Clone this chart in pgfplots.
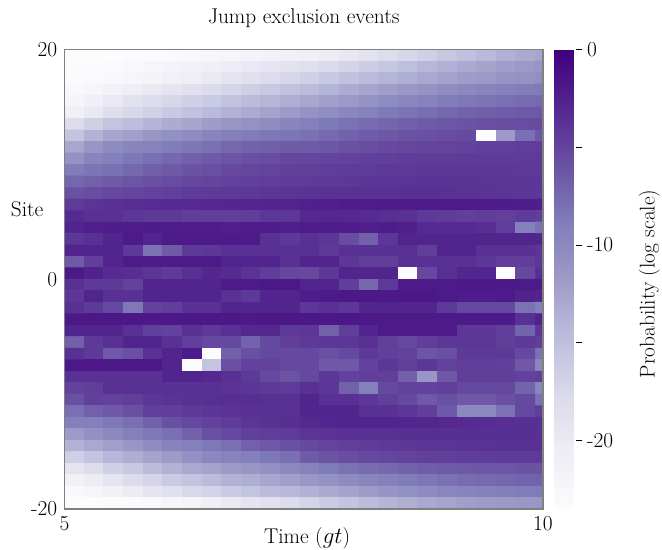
\documentclass[border=0pt]{standalone}
\usepackage{pgfplots}
\pgfplotsset{compat=1.18}
\pgfplotsset{colormap={purples}{rgb255=(252,251,253) rgb255=(239,237,245) rgb255=(218,218,235) rgb255=(188,189,220) rgb255=(158,154,200) rgb255=(128,125,186) rgb255=(106,81,163) rgb255=(84,39,143) rgb255=(63,0,125)}}
\definecolor{framegray}{RGB}{128,128,128}
\begin{document}
\begin{tikzpicture}[font=\fontsize{16}{19}\selectfont]
\useasboundingbox (0,0) rectangle (496.5pt,412.5pt);
\begin{axis}[
  at={(48.375pt,30.75pt)}, anchor=south west,
  width=358.875pt, height=344.625pt, scale only axis,
  xmin=5, xmax=10, ymin=-20, ymax=20,
  xtick={5,10}, xticklabels={5,10},
  ytick={-20,0,20}, yticklabels={\hbox{-}20,0,20},
  major tick length=0pt, minor tick length=0pt,
  axis line style={draw=framegray, line width=1pt},
  axis on top,
  title={Jump exclusion events},
  title style={at={(rel axis cs:0.5,1.05)}, anchor=center},
  xlabel={Time ($gt$)},
  xlabel style={at={(rel axis cs:0.507,-0.063)}, anchor=center},
  ylabel={Site},
  ylabel style={at={(rel axis cs:-0.078,0.653)}, anchor=center, rotate=-90},
  yticklabel style={xshift=-2pt},
  xticklabel style={yshift=-2pt},
  colormap name=purples,
  point meta min=-23.5, point meta max=0,
  colorbar,
  colorbar style={
    at={(parent axis.north east)}, anchor=north west, xshift=0pt,
    width=16.5pt,
    ytick={-20,-10,0}, yticklabels={\hbox{-}20,\hbox{-}10,0},
    minor ytick={-15,-5},
    ytick pos=right, yticklabel pos=right,
    tick align=outside,
    major tick length=4.5pt, minor tick length=4.5pt,
    tick style={black, line width=0.7pt},
    axis line style={draw=none},
    ylabel={Probability (log scale)},
    ylabel style={at={(rel axis cs:4.32,0.49)}, anchor=center},
  },
]
\addplot[matrix plot*, mesh/cols=25, point meta=explicit] table[x=x, y=y, meta=c, row sep=\\] {
x y c\\
5.10 19.5 -23.4\\ 5.31 19.5 -23.4\\ 5.51 19.5 -23.4\\ 5.72 19.5 -23.3\\ 5.92 19.5 -23.2\\ 6.13 19.5 -23.0\\ 6.33 19.5 -22.8\\ 6.54 19.5 -22.5\\ 6.74 19.5 -22.2\\ 6.95 19.5 -21.9\\ 7.15 19.5 -21.6\\ 7.36 19.5 -21.2\\ 7.56 19.5 -20.8\\ 7.77 19.5 -20.3\\ 7.97 19.5 -19.6\\ 8.18 19.5 -18.9\\ 8.38 19.5 -18.1\\ 8.59 19.5 -17.3\\ 8.79 19.5 -16.5\\ 9.00 19.5 -15.8\\ 9.20 19.5 -15.1\\ 9.41 19.5 -14.4\\ 9.61 19.5 -13.7\\ 9.82 19.5 -13.1\\ 10.02 19.5 -12.6\\
5.10 18.5 -23.3\\ 5.31 18.5 -23.2\\ 5.51 18.5 -23.0\\ 5.72 18.5 -22.7\\ 5.92 18.5 -22.3\\ 6.13 18.5 -21.9\\ 6.33 18.5 -21.4\\ 6.54 18.5 -20.9\\ 6.74 18.5 -20.4\\ 6.95 18.5 -19.9\\ 7.15 18.5 -19.4\\ 7.36 18.5 -18.9\\ 7.56 18.5 -18.4\\ 7.77 18.5 -17.7\\ 7.97 18.5 -17.0\\ 8.18 18.5 -16.3\\ 8.38 18.5 -15.6\\ 8.59 18.5 -14.9\\ 8.79 18.5 -14.2\\ 9.00 18.5 -13.6\\ 9.20 18.5 -13.0\\ 9.41 18.5 -12.5\\ 9.61 18.5 -12.0\\ 9.82 18.5 -11.6\\ 10.02 18.5 -11.2\\
5.10 17.5 -23.2\\ 5.31 17.5 -23.0\\ 5.51 17.5 -22.7\\ 5.72 17.5 -22.3\\ 5.92 17.5 -21.8\\ 6.13 17.5 -21.2\\ 6.33 17.5 -20.6\\ 6.54 17.5 -19.9\\ 6.74 17.5 -19.2\\ 6.95 17.5 -18.5\\ 7.15 17.5 -17.9\\ 7.36 17.5 -17.3\\ 7.56 17.5 -16.6\\ 7.77 17.5 -15.9\\ 7.97 17.5 -15.2\\ 8.18 17.5 -14.6\\ 8.38 17.5 -14.0\\ 8.59 17.5 -13.4\\ 8.79 17.5 -12.9\\ 9.00 17.5 -12.4\\ 9.20 17.5 -11.9\\ 9.41 17.5 -11.5\\ 9.61 17.5 -11.1\\ 9.82 17.5 -10.8\\ 10.02 17.5 -10.5\\
5.10 16.5 -22.8\\ 5.31 16.5 -22.3\\ 5.51 16.5 -21.4\\ 5.72 16.5 -20.7\\ 5.92 16.5 -19.8\\ 6.13 16.5 -19.2\\ 6.33 16.5 -18.6\\ 6.54 16.5 -17.8\\ 6.74 16.5 -17.1\\ 6.95 16.5 -16.4\\ 7.15 16.5 -15.8\\ 7.36 16.5 -15.2\\ 7.56 16.5 -14.6\\ 7.77 16.5 -13.9\\ 7.97 16.5 -13.2\\ 8.18 16.5 -12.6\\ 8.38 16.5 -12.0\\ 8.59 16.5 -11.4\\ 8.79 16.5 -10.9\\ 9.00 16.5 -10.4\\ 9.20 16.5 -10.0\\ 9.41 16.5 -9.6\\ 9.61 16.5 -9.2\\ 9.82 16.5 -8.9\\ 10.02 16.5 -8.7\\
5.10 15.5 -22.0\\ 5.31 15.5 -20.8\\ 5.51 15.5 -19.9\\ 5.72 15.5 -18.8\\ 5.92 15.5 -18.0\\ 6.13 15.5 -17.3\\ 6.33 15.5 -16.6\\ 6.54 15.5 -16.0\\ 6.74 15.5 -15.3\\ 6.95 15.5 -14.6\\ 7.15 15.5 -14.0\\ 7.36 15.5 -13.4\\ 7.56 15.5 -12.8\\ 7.77 15.5 -12.1\\ 7.97 15.5 -11.5\\ 8.18 15.5 -10.9\\ 8.38 15.5 -10.3\\ 8.59 15.5 -9.8\\ 8.79 15.5 -9.3\\ 9.00 15.5 -8.9\\ 9.20 15.5 -8.5\\ 9.41 15.5 -8.2\\ 9.61 15.5 -7.9\\ 9.82 15.5 -7.7\\ 10.02 15.5 -7.5\\
5.10 14.5 -21.2\\ 5.31 14.5 -19.8\\ 5.51 14.5 -18.3\\ 5.72 14.5 -17.4\\ 5.92 14.5 -16.7\\ 6.13 14.5 -15.9\\ 6.33 14.5 -15.2\\ 6.54 14.5 -14.5\\ 6.74 14.5 -13.8\\ 6.95 14.5 -13.1\\ 7.15 14.5 -12.4\\ 7.36 14.5 -11.7\\ 7.56 14.5 -11.0\\ 7.77 14.5 -10.4\\ 7.97 14.5 -9.8\\ 8.18 14.5 -9.2\\ 8.38 14.5 -8.7\\ 8.59 14.5 -8.2\\ 8.79 14.5 -7.8\\ 9.00 14.5 -7.4\\ 9.20 14.5 -7.1\\ 9.41 14.5 -6.8\\ 9.61 14.5 -6.6\\ 9.82 14.5 -6.4\\ 10.02 14.5 -6.3\\
5.10 13.5 -17.9\\ 5.31 13.5 -16.5\\ 5.51 13.5 -15.4\\ 5.72 13.5 -14.8\\ 5.92 13.5 -13.9\\ 6.13 13.5 -13.2\\ 6.33 13.5 -12.6\\ 6.54 13.5 -11.9\\ 6.74 13.5 -11.3\\ 6.95 13.5 -10.8\\ 7.15 13.5 -10.3\\ 7.36 13.5 -9.7\\ 7.56 13.5 -9.1\\ 7.77 13.5 -8.6\\ 7.97 13.5 -8.1\\ 8.18 13.5 -7.6\\ 8.38 13.5 -7.2\\ 8.59 13.5 -6.8\\ 8.79 13.5 -6.5\\ 9.00 13.5 -6.2\\ 9.20 13.5 -6.0\\ 9.41 13.5 -5.8\\ 9.61 13.5 -5.6\\ 9.82 13.5 -5.5\\ 10.02 13.5 -5.4\\
5.10 12.5 -15.4\\ 5.31 12.5 -13.8\\ 5.51 12.5 -12.6\\ 5.72 12.5 -12.2\\ 5.92 12.5 -11.2\\ 6.13 12.5 -10.7\\ 6.33 12.5 -10.3\\ 6.54 12.5 -9.6\\ 6.74 12.5 -9.1\\ 6.95 12.5 -8.8\\ 7.15 12.5 -8.5\\ 7.36 12.5 -8.3\\ 7.56 12.5 -8.0\\ 7.77 12.5 -7.5\\ 7.97 12.5 -7.0\\ 8.18 12.5 -6.6\\ 8.38 12.5 -6.3\\ 8.59 12.5 -6.0\\ 8.79 12.5 -5.8\\ 9.00 12.5 -5.6\\ 9.20 12.5 -5.4\\ 9.41 12.5 -23.5\\ 9.61 12.5 -11.7\\ 9.82 12.5 -7.9\\ 10.02 12.5 -6.3\\
5.10 11.5 -12.7\\ 5.31 11.5 -11.3\\ 5.51 11.5 -10.2\\ 5.72 11.5 -9.7\\ 5.92 11.5 -9.3\\ 6.13 11.5 -8.8\\ 6.33 11.5 -8.4\\ 6.54 11.5 -8.0\\ 6.74 11.5 -7.3\\ 6.95 11.5 -7.0\\ 7.15 11.5 -6.8\\ 7.36 11.5 -6.6\\ 7.56 11.5 -6.5\\ 7.77 11.5 -6.2\\ 7.97 11.5 -5.9\\ 8.18 11.5 -5.6\\ 8.38 11.5 -5.4\\ 8.59 11.5 -5.2\\ 8.79 11.5 -5.0\\ 9.00 11.5 -4.9\\ 9.20 11.5 -4.8\\ 9.41 11.5 -4.7\\ 9.61 11.5 -4.6\\ 9.82 11.5 -4.5\\ 10.02 11.5 -4.5\\
5.10 10.5 -10.8\\ 5.31 10.5 -9.6\\ 5.51 10.5 -9.1\\ 5.72 10.5 -8.5\\ 5.92 10.5 -7.9\\ 6.13 10.5 -7.4\\ 6.33 10.5 -6.9\\ 6.54 10.5 -6.5\\ 6.74 10.5 -6.1\\ 6.95 10.5 -5.8\\ 7.15 10.5 -5.5\\ 7.36 10.5 -5.2\\ 7.56 10.5 -5.1\\ 7.77 10.5 -4.9\\ 7.97 10.5 -4.8\\ 8.18 10.5 -4.7\\ 8.38 10.5 -4.6\\ 8.59 10.5 -4.5\\ 8.79 10.5 -4.4\\ 9.00 10.5 -4.4\\ 9.20 10.5 -4.3\\ 9.41 10.5 -4.3\\ 9.61 10.5 -4.3\\ 9.82 10.5 -4.3\\ 10.02 10.5 -4.3\\
5.10 9.5 -8.8\\ 5.31 9.5 -8.3\\ 5.51 9.5 -8.0\\ 5.72 9.5 -7.4\\ 5.92 9.5 -6.8\\ 6.13 9.5 -6.4\\ 6.33 9.5 -6.0\\ 6.54 9.5 -5.7\\ 6.74 9.5 -5.4\\ 6.95 9.5 -5.1\\ 7.15 9.5 -4.9\\ 7.36 9.5 -4.7\\ 7.56 9.5 -4.6\\ 7.77 9.5 -4.5\\ 7.97 9.5 -4.4\\ 8.18 9.5 -4.3\\ 8.38 9.5 -4.2\\ 8.59 9.5 -4.2\\ 8.79 9.5 -4.1\\ 9.00 9.5 -4.1\\ 9.20 9.5 -4.1\\ 9.41 9.5 -4.1\\ 9.61 9.5 -4.1\\ 9.82 9.5 -4.2\\ 10.02 9.5 -4.2\\
5.10 8.5 -7.3\\ 5.31 8.5 -6.9\\ 5.51 8.5 -6.5\\ 5.72 8.5 -6.1\\ 5.92 8.5 -5.8\\ 6.13 8.5 -5.5\\ 6.33 8.5 -5.2\\ 6.54 8.5 -5.0\\ 6.74 8.5 -4.8\\ 6.95 8.5 -4.6\\ 7.15 8.5 -4.5\\ 7.36 8.5 -4.4\\ 7.56 8.5 -4.3\\ 7.77 8.5 -4.2\\ 7.97 8.5 -4.1\\ 8.18 8.5 -4.0\\ 8.38 8.5 -3.9\\ 8.59 8.5 -3.9\\ 8.79 8.5 -3.8\\ 9.00 8.5 -3.8\\ 9.20 8.5 -3.8\\ 9.41 8.5 -3.9\\ 9.61 8.5 -3.9\\ 9.82 8.5 -4.0\\ 10.02 8.5 -4.0\\
5.10 7.5 -5.9\\ 5.31 7.5 -5.6\\ 5.51 7.5 -5.3\\ 5.72 7.5 -5.0\\ 5.92 7.5 -4.8\\ 6.13 7.5 -4.6\\ 6.33 7.5 -4.4\\ 6.54 7.5 -4.3\\ 6.74 7.5 -4.2\\ 6.95 7.5 -4.1\\ 7.15 7.5 -4.0\\ 7.36 7.5 -3.9\\ 7.56 7.5 -3.8\\ 7.77 7.5 -3.7\\ 7.97 7.5 -3.7\\ 8.18 7.5 -3.6\\ 8.38 7.5 -3.6\\ 8.59 7.5 -3.5\\ 8.79 7.5 -3.5\\ 9.00 7.5 -3.6\\ 9.20 7.5 -3.7\\ 9.41 7.5 -3.8\\ 9.61 7.5 -3.9\\ 9.82 7.5 -4.0\\ 10.02 7.5 -4.1\\
5.10 6.5 -4.3\\ 5.31 6.5 -3.9\\ 5.51 6.5 -3.6\\ 5.72 6.5 -3.4\\ 5.92 6.5 -3.3\\ 6.13 6.5 -3.2\\ 6.33 6.5 -3.1\\ 6.54 6.5 -3.0\\ 6.74 6.5 -2.9\\ 6.95 6.5 -2.8\\ 7.15 6.5 -2.7\\ 7.36 6.5 -2.6\\ 7.56 6.5 -2.4\\ 7.77 6.5 -2.3\\ 7.97 6.5 -2.2\\ 8.18 6.5 -2.2\\ 8.38 6.5 -2.1\\ 8.59 6.5 -2.1\\ 8.79 6.5 -2.1\\ 9.00 6.5 -2.0\\ 9.20 6.5 -2.0\\ 9.41 6.5 -2.0\\ 9.61 6.5 -2.1\\ 9.82 6.5 -2.2\\ 10.02 6.5 -2.3\\
5.10 5.5 -3.2\\ 5.31 5.5 -3.55\\ 5.51 5.5 -3.55\\ 5.72 5.5 -4.05\\ 5.92 5.5 -4.25\\ 6.13 5.5 -4.25\\ 6.33 5.5 -4.55\\ 6.54 5.5 -4.55\\ 6.74 5.5 -4.55\\ 6.95 5.5 -4.55\\ 7.15 5.5 -4.05\\ 7.36 5.5 -4.05\\ 7.56 5.5 -3.0\\ 7.77 5.5 -2.9\\ 7.97 5.5 -3.0\\ 8.18 5.5 -3.2\\ 8.38 5.5 -3.4\\ 8.59 5.5 -3.6\\ 8.79 5.5 -4.2\\ 9.00 5.5 -4.4\\ 9.20 5.5 -4.6\\ 9.41 5.5 -4.5\\ 9.61 5.5 -4.6\\ 9.82 5.5 -4.3\\ 10.02 5.5 -4.7\\
5.10 4.5 -2.7\\ 5.31 4.5 -2.3\\ 5.51 4.5 -2.2\\ 5.72 4.5 -2.2\\ 5.92 4.5 -2.1\\ 6.13 4.5 -2.2\\ 6.33 4.5 -2.2\\ 6.54 4.5 -2.2\\ 6.74 4.5 -2.3\\ 6.95 4.5 -2.2\\ 7.15 4.5 -2.2\\ 7.36 4.5 -2.3\\ 7.56 4.5 -2.2\\ 7.77 4.5 -2.2\\ 7.97 4.5 -2.2\\ 8.18 4.5 -2.3\\ 8.38 4.5 -2.2\\ 8.59 4.5 -2.3\\ 8.79 4.5 -3.2\\ 9.00 4.5 -3.2\\ 9.20 4.5 -3.2\\ 9.41 4.5 -3.4\\ 9.61 4.5 -4.5\\ 9.82 4.5 -9.1\\ 10.02 4.5 -8.1\\
5.10 3.5 -4.05\\ 5.31 3.5 -3.55\\ 5.51 3.5 -2.7\\ 5.72 3.5 -2.0\\ 5.92 3.5 -2.7\\ 6.13 3.5 -2.0\\ 6.33 3.5 -2.0\\ 6.54 3.5 -2.0\\ 6.74 3.5 -2.0\\ 6.95 3.5 -2.0\\ 7.15 3.5 -3.55\\ 7.36 3.5 -4.25\\ 7.56 3.5 -3.55\\ 7.77 3.5 -4.05\\ 7.97 3.5 -5.5\\ 8.18 3.5 -6.9\\ 8.38 3.5 -4.05\\ 8.59 3.5 -2.7\\ 8.79 3.5 -2.7\\ 9.00 3.5 -2.7\\ 9.20 3.5 -2.7\\ 9.41 3.5 -2.7\\ 9.61 3.5 -2.7\\ 9.82 3.5 -2.7\\ 10.02 3.5 -2.7\\
5.10 2.5 -2.7\\ 5.31 2.5 -2.7\\ 5.51 2.5 -2.7\\ 5.72 2.5 -4.25\\ 5.92 2.5 -8.1\\ 6.13 2.5 -6.5\\ 6.33 2.5 -4.25\\ 6.54 2.5 -4.05\\ 6.74 2.5 -3.55\\ 6.95 2.5 -3.55\\ 7.15 2.5 -3.55\\ 7.36 2.5 -3.55\\ 7.56 2.5 -3.55\\ 7.77 2.5 -4.25\\ 7.97 2.5 -3.55\\ 8.18 2.5 -3.55\\ 8.38 2.5 -3.55\\ 8.59 2.5 -3.55\\ 8.79 2.5 -4.55\\ 9.00 2.5 -2.7\\ 9.20 2.5 -2.7\\ 9.41 2.5 -3.55\\ 9.61 2.5 -3.55\\ 9.82 2.5 -3.55\\ 10.02 2.5 -4.05\\
5.10 1.5 -6.5\\ 5.31 1.5 -4.55\\ 5.51 1.5 -2.7\\ 5.72 1.5 -1.95\\ 5.92 1.5 -1.95\\ 6.13 1.5 -1.95\\ 6.33 1.5 -1.95\\ 6.54 1.5 -1.95\\ 6.74 1.5 -2.7\\ 6.95 1.5 -2.7\\ 7.15 1.5 -2.7\\ 7.36 1.5 -3.55\\ 7.56 1.5 -2.7\\ 7.77 1.5 -2.7\\ 7.97 1.5 -4.05\\ 8.18 1.5 -4.55\\ 8.38 1.5 -4.55\\ 8.59 1.5 -3.55\\ 8.79 1.5 -3.55\\ 9.00 1.5 -3.55\\ 9.20 1.5 -3.55\\ 9.41 1.5 -4.05\\ 9.61 1.5 -4.55\\ 9.82 1.5 -4.55\\ 10.02 1.5 -4.05\\
5.10 0.5 -1.9\\ 5.31 0.5 -2.5\\ 5.51 0.5 -3.3\\ 5.72 0.5 -3.4\\ 5.92 0.5 -4.0\\ 6.13 0.5 -4.3\\ 6.33 0.5 -3.5\\ 6.54 0.5 -2.9\\ 6.74 0.5 -3.2\\ 6.95 0.5 -3.8\\ 7.15 0.5 -4.5\\ 7.36 0.5 -5.2\\ 7.56 0.5 -5.4\\ 7.77 0.5 -4.1\\ 7.97 0.5 -2.7\\ 8.18 0.5 -2.7\\ 8.38 0.5 -2.7\\ 8.59 0.5 -23.5\\ 8.79 0.5 -5.3\\ 9.00 0.5 -3.5\\ 9.20 0.5 -2.8\\ 9.41 0.5 -2.8\\ 9.61 0.5 -23.5\\ 9.82 0.5 -5.3\\ 10.02 0.5 -3.5\\
5.10 -0.5 -3.55\\ 5.31 -0.5 -4.25\\ 5.51 -0.5 -4.25\\ 5.72 -0.5 -4.8\\ 5.92 -0.5 -2.7\\ 6.13 -0.5 -2.7\\ 6.33 -0.5 -2.7\\ 6.54 -0.5 -2.7\\ 6.74 -0.5 -1.95\\ 6.95 -0.5 -1.95\\ 7.15 -0.5 -1.8\\ 7.36 -0.5 -1.8\\ 7.56 -0.5 -2.7\\ 7.77 -0.5 -2.7\\ 7.97 -0.5 -4.55\\ 8.18 -0.5 -7.4\\ 8.38 -0.5 -4.25\\ 8.59 -0.5 -1.95\\ 8.79 -0.5 -1.95\\ 9.00 -0.5 -1.95\\ 9.20 -0.5 -1.9\\ 9.41 -0.5 -1.9\\ 9.61 -0.5 -1.9\\ 9.82 -0.5 -2.0\\ 10.02 -0.5 -1.95\\
5.10 -1.5 -4.05\\ 5.31 -1.5 -2.7\\ 5.51 -1.5 -3.55\\ 5.72 -1.5 -3.55\\ 5.92 -1.5 -2.7\\ 6.13 -1.5 -2.7\\ 6.33 -1.5 -2.7\\ 6.54 -1.5 -2.7\\ 6.74 -1.5 -3.55\\ 6.95 -1.5 -4.25\\ 7.15 -1.5 -2.7\\ 7.36 -1.5 -2.7\\ 7.56 -1.5 -2.2\\ 7.77 -1.5 -2.0\\ 7.97 -1.5 -1.8\\ 8.18 -1.5 -1.8\\ 8.38 -1.5 -1.9\\ 8.59 -1.5 -1.8\\ 8.79 -1.5 -1.8\\ 9.00 -1.5 -2.0\\ 9.20 -1.5 -2.2\\ 9.41 -1.5 -2.2\\ 9.61 -1.5 -2.0\\ 9.82 -1.5 -2.5\\ 10.02 -1.5 -2.7\\
5.10 -2.5 -3.55\\ 5.31 -2.5 -4.25\\ 5.51 -2.5 -5.25\\ 5.72 -2.5 -8.5\\ 5.92 -2.5 -4.8\\ 6.13 -2.5 -4.55\\ 6.33 -2.5 -3.55\\ 6.54 -2.5 -3.55\\ 6.74 -2.5 -2.7\\ 6.95 -2.5 -2.7\\ 7.15 -2.5 -2.7\\ 7.36 -2.5 -2.7\\ 7.56 -2.5 -4.05\\ 7.77 -2.5 -3.55\\ 7.97 -2.5 -4.05\\ 8.18 -2.5 -2.7\\ 8.38 -2.5 -2.7\\ 8.59 -2.5 -2.7\\ 8.79 -2.5 -2.7\\ 9.00 -2.5 -4.25\\ 9.20 -2.5 -5.25\\ 9.41 -2.5 -5.25\\ 9.61 -2.5 -5.25\\ 9.82 -2.5 -8.1\\ 10.02 -2.5 -9.1\\
5.10 -3.5 -1.9\\ 5.31 -3.5 -1.8\\ 5.51 -3.5 -1.8\\ 5.72 -3.5 -1.8\\ 5.92 -3.5 -1.9\\ 6.13 -3.5 -1.8\\ 6.33 -3.5 -1.8\\ 6.54 -3.5 -1.8\\ 6.74 -3.5 -1.8\\ 6.95 -3.5 -1.9\\ 7.15 -3.5 -1.8\\ 7.36 -3.5 -1.8\\ 7.56 -3.5 -1.8\\ 7.77 -3.5 -1.8\\ 7.97 -3.5 -1.8\\ 8.18 -3.5 -1.9\\ 8.38 -3.5 -1.95\\ 8.59 -3.5 -1.95\\ 8.79 -3.5 -1.95\\ 9.00 -3.5 -1.95\\ 9.20 -3.5 -1.95\\ 9.41 -3.5 -1.95\\ 9.61 -3.5 -1.95\\ 9.82 -3.5 -3.55\\ 10.02 -3.5 -2.5\\
5.10 -4.5 -2.7\\ 5.31 -4.5 -2.7\\ 5.51 -4.5 -2.7\\ 5.72 -4.5 -3.55\\ 5.92 -4.5 -4.7\\ 6.13 -4.5 -4.8\\ 6.33 -4.5 -3.55\\ 6.54 -4.5 -4.25\\ 6.74 -4.5 -3.55\\ 6.95 -4.5 -3.0\\ 7.15 -4.5 -3.0\\ 7.36 -4.5 -4.25\\ 7.56 -4.5 -4.05\\ 7.77 -4.5 -6.9\\ 7.97 -4.5 -4.55\\ 8.18 -4.5 -2.7\\ 8.38 -4.5 -1.95\\ 8.59 -4.5 -1.95\\ 8.79 -4.5 -1.95\\ 9.00 -4.5 -1.95\\ 9.20 -4.5 -4.05\\ 9.41 -4.5 -4.05\\ 9.61 -4.5 -4.55\\ 9.82 -4.5 -7.1\\ 10.02 -4.5 -4.05\\
5.10 -5.5 -6.9\\ 5.31 -5.5 -4.25\\ 5.51 -5.5 -3.55\\ 5.72 -5.5 -2.7\\ 5.92 -5.5 -2.7\\ 6.13 -5.5 -3.55\\ 6.33 -5.5 -4.7\\ 6.54 -5.5 -5.25\\ 6.74 -5.5 -5.25\\ 6.95 -5.5 -7.1\\ 7.15 -5.5 -5.25\\ 7.36 -5.5 -4.55\\ 7.56 -5.5 -4.25\\ 7.77 -5.5 -4.05\\ 7.97 -5.5 -4.05\\ 8.18 -5.5 -3.55\\ 8.38 -5.5 -4.7\\ 8.59 -5.5 -5.25\\ 8.79 -5.5 -4.55\\ 9.00 -5.5 -4.05\\ 9.20 -5.5 -4.05\\ 9.41 -5.5 -4.05\\ 9.61 -5.5 -4.55\\ 9.82 -5.5 -4.25\\ 10.02 -5.5 -4.55\\
5.10 -6.5 -3.55\\ 5.31 -6.5 -4.25\\ 5.51 -6.5 -6.35\\ 5.72 -6.5 -5.8\\ 5.92 -6.5 -3.55\\ 6.13 -6.5 -2.7\\ 6.33 -6.5 -1.95\\ 6.54 -6.5 -23.5\\ 6.74 -6.5 -6.9\\ 6.95 -6.5 -5.8\\ 7.15 -6.5 -5.25\\ 7.36 -6.5 -5.25\\ 7.56 -6.5 -5.25\\ 7.77 -6.5 -5.8\\ 7.97 -6.5 -5.25\\ 8.18 -6.5 -4.25\\ 8.38 -6.5 -4.7\\ 8.59 -6.5 -4.8\\ 8.79 -6.5 -6.1\\ 9.00 -6.5 -5.8\\ 9.20 -6.5 -4.25\\ 9.41 -6.5 -4.25\\ 9.61 -6.5 -4.25\\ 9.82 -6.5 -5.25\\ 10.02 -6.5 -8.1\\
5.10 -7.5 -1.8\\ 5.31 -7.5 -1.8\\ 5.51 -7.5 -1.8\\ 5.72 -7.5 -1.8\\ 5.92 -7.5 -1.8\\ 6.13 -7.5 -2.7\\ 6.33 -7.5 -23.5\\ 6.54 -7.5 -15.4\\ 6.74 -7.5 -5.8\\ 6.95 -7.5 -4.8\\ 7.15 -7.5 -4.8\\ 7.36 -7.5 -5.25\\ 7.56 -7.5 -5.25\\ 7.77 -7.5 -6.35\\ 7.97 -7.5 -6.35\\ 8.18 -7.5 -4.8\\ 8.38 -7.5 -4.05\\ 8.59 -7.5 -4.7\\ 8.79 -7.5 -4.05\\ 9.00 -7.5 -4.8\\ 9.20 -7.5 -4.55\\ 9.41 -7.5 -4.55\\ 9.61 -7.5 -4.7\\ 9.82 -7.5 -6.35\\ 10.02 -7.5 -9.9\\
5.10 -8.5 -3.55\\ 5.31 -8.5 -3.55\\ 5.51 -8.5 -3.55\\ 5.72 -8.5 -3.55\\ 5.92 -8.5 -3.55\\ 6.13 -8.5 -2.7\\ 6.33 -8.5 -2.7\\ 6.54 -8.5 -3.0\\ 6.74 -8.5 -3.55\\ 6.95 -8.5 -4.25\\ 7.15 -8.5 -5.25\\ 7.36 -8.5 -6.0\\ 7.56 -8.5 -5.25\\ 7.77 -8.5 -4.05\\ 7.97 -8.5 -4.8\\ 8.18 -8.5 -4.55\\ 8.38 -8.5 -4.7\\ 8.59 -8.5 -6.9\\ 8.79 -8.5 -11.3\\ 9.00 -8.5 -6.35\\ 9.20 -8.5 -4.55\\ 9.41 -8.5 -4.55\\ 9.61 -8.5 -4.55\\ 9.82 -8.5 -4.8\\ 10.02 -8.5 -4.7\\
5.10 -9.5 -4.8\\ 5.31 -9.5 -4.55\\ 5.51 -9.5 -3.55\\ 5.72 -9.5 -3.55\\ 5.92 -9.5 -3.55\\ 6.13 -9.5 -3.55\\ 6.33 -9.5 -3.55\\ 6.54 -9.5 -3.55\\ 6.74 -9.5 -3.8\\ 6.95 -9.5 -4.0\\ 7.15 -9.5 -4.2\\ 7.36 -9.5 -4.3\\ 7.56 -9.5 -3.55\\ 7.77 -9.5 -4.05\\ 7.97 -9.5 -6.9\\ 8.18 -9.5 -9.1\\ 8.38 -9.5 -5.25\\ 8.59 -9.5 -4.8\\ 8.79 -9.5 -4.8\\ 9.00 -9.5 -4.7\\ 9.20 -9.5 -5.25\\ 9.41 -9.5 -5.25\\ 9.61 -9.5 -5.25\\ 9.82 -9.5 -7.1\\ 10.02 -9.5 -9.9\\
5.10 -10.5 -5.8\\ 5.31 -10.5 -4.7\\ 5.51 -10.5 -4.8\\ 5.72 -10.5 -4.55\\ 5.92 -10.5 -4.05\\ 6.13 -10.5 -3.8\\ 6.33 -10.5 -3.6\\ 6.54 -10.5 -3.5\\ 6.74 -10.5 -3.4\\ 6.95 -10.5 -3.4\\ 7.15 -10.5 -3.5\\ 7.36 -10.5 -3.55\\ 7.56 -10.5 -2.7\\ 7.77 -10.5 -3.55\\ 7.97 -10.5 -3.55\\ 8.18 -10.5 -4.05\\ 8.38 -10.5 -4.7\\ 8.59 -10.5 -5.25\\ 8.79 -10.5 -6.35\\ 9.00 -10.5 -5.8\\ 9.20 -10.5 -6.35\\ 9.41 -10.5 -6.35\\ 9.61 -10.5 -5.8\\ 9.82 -10.5 -5.25\\ 10.02 -10.5 -8.1\\
5.10 -11.5 -7.9\\ 5.31 -11.5 -6.9\\ 5.51 -11.5 -6.35\\ 5.72 -11.5 -5.8\\ 5.92 -11.5 -4.7\\ 6.13 -11.5 -4.55\\ 6.33 -11.5 -4.2\\ 6.54 -11.5 -4.0\\ 6.74 -11.5 -3.8\\ 6.95 -11.5 -3.6\\ 7.15 -11.5 -3.55\\ 7.36 -11.5 -3.55\\ 7.56 -11.5 -2.7\\ 7.77 -11.5 -2.7\\ 7.97 -11.5 -2.7\\ 8.18 -11.5 -3.55\\ 8.38 -11.5 -3.55\\ 8.59 -11.5 -4.05\\ 8.79 -11.5 -4.55\\ 9.00 -11.5 -6.35\\ 9.20 -11.5 -9.9\\ 9.41 -11.5 -9.9\\ 9.61 -11.5 -8.1\\ 9.82 -11.5 -5.25\\ 10.02 -11.5 -4.55\\
5.10 -12.5 -9.1\\ 5.31 -12.5 -9.1\\ 5.51 -12.5 -8.5\\ 5.72 -12.5 -7.9\\ 5.92 -12.5 -6.9\\ 6.13 -12.5 -5.8\\ 6.33 -12.5 -5.25\\ 6.54 -12.5 -4.8\\ 6.74 -12.5 -4.4\\ 6.95 -12.5 -4.0\\ 7.15 -12.5 -3.7\\ 7.36 -12.5 -3.4\\ 7.56 -12.5 -3.1\\ 7.77 -12.5 -2.8\\ 7.97 -12.5 -2.7\\ 8.18 -12.5 -2.7\\ 8.38 -12.5 -2.7\\ 8.59 -12.5 -2.8\\ 8.79 -12.5 -2.9\\ 9.00 -12.5 -3.0\\ 9.20 -12.5 -3.2\\ 9.41 -12.5 -3.3\\ 9.61 -12.5 -3.4\\ 9.82 -12.5 -3.5\\ 10.02 -12.5 -3.55\\
5.10 -13.5 -11.75\\ 5.31 -13.5 -10.75\\ 5.51 -13.5 -9.9\\ 5.72 -13.5 -9.1\\ 5.92 -13.5 -8.5\\ 6.13 -13.5 -7.9\\ 6.33 -13.5 -6.9\\ 6.54 -13.5 -5.8\\ 6.74 -13.5 -5.25\\ 6.95 -13.5 -4.7\\ 7.15 -13.5 -4.5\\ 7.36 -13.5 -4.3\\ 7.56 -13.5 -3.9\\ 7.77 -13.5 -3.7\\ 7.97 -13.5 -3.6\\ 8.18 -13.5 -3.55\\ 8.38 -13.5 -3.55\\ 8.59 -13.5 -3.5\\ 8.79 -13.5 -3.5\\ 9.00 -13.5 -3.5\\ 9.20 -13.5 -3.5\\ 9.41 -13.5 -3.5\\ 9.61 -13.5 -3.5\\ 9.82 -13.5 -3.5\\ 10.02 -13.5 -3.5\\
5.10 -14.5 -13.8\\ 5.31 -14.5 -12.9\\ 5.51 -14.5 -12.1\\ 5.72 -14.5 -11.3\\ 5.92 -14.5 -10.3\\ 6.13 -14.5 -9.5\\ 6.33 -14.5 -9.1\\ 6.54 -14.5 -8.5\\ 6.74 -14.5 -7.9\\ 6.95 -14.5 -6.9\\ 7.15 -14.5 -6.35\\ 7.36 -14.5 -5.8\\ 7.56 -14.5 -5.3\\ 7.77 -14.5 -4.9\\ 7.97 -14.5 -4.6\\ 8.18 -14.5 -4.4\\ 8.38 -14.5 -4.2\\ 8.59 -14.5 -4.1\\ 8.79 -14.5 -4.0\\ 9.00 -14.5 -3.9\\ 9.20 -14.5 -3.8\\ 9.41 -14.5 -3.7\\ 9.61 -14.5 -3.6\\ 9.82 -14.5 -3.6\\ 10.02 -14.5 -3.55\\
5.10 -15.5 -16.5\\ 5.31 -15.5 -15.4\\ 5.51 -15.5 -14.2\\ 5.72 -15.5 -13.3\\ 5.92 -15.5 -12.4\\ 6.13 -15.5 -11.75\\ 6.33 -15.5 -10.75\\ 6.54 -15.5 -9.9\\ 6.74 -15.5 -9.5\\ 6.95 -15.5 -9.1\\ 7.15 -15.5 -8.5\\ 7.36 -15.5 -7.9\\ 7.56 -15.5 -6.5\\ 7.77 -15.5 -6.0\\ 7.97 -15.5 -5.6\\ 8.18 -15.5 -5.3\\ 8.38 -15.5 -5.1\\ 8.59 -15.5 -4.9\\ 8.79 -15.5 -4.7\\ 9.00 -15.5 -4.6\\ 9.20 -15.5 -4.5\\ 9.41 -15.5 -4.4\\ 9.61 -15.5 -4.3\\ 9.82 -15.5 -4.3\\ 10.02 -15.5 -4.25\\
5.10 -16.5 -19.0\\ 5.31 -16.5 -17.9\\ 5.51 -16.5 -16.6\\ 5.72 -16.5 -15.8\\ 5.92 -16.5 -14.6\\ 6.13 -16.5 -13.8\\ 6.33 -16.5 -12.9\\ 6.54 -16.5 -12.4\\ 6.74 -16.5 -11.75\\ 6.95 -16.5 -11.3\\ 7.15 -16.5 -10.75\\ 7.36 -16.5 -9.9\\ 7.56 -16.5 -9.3\\ 7.77 -16.5 -8.7\\ 7.97 -16.5 -8.1\\ 8.18 -16.5 -7.7\\ 8.38 -16.5 -7.4\\ 8.59 -16.5 -7.0\\ 8.79 -16.5 -6.7\\ 9.00 -16.5 -6.5\\ 9.20 -16.5 -6.3\\ 9.41 -16.5 -6.2\\ 9.61 -16.5 -6.1\\ 9.82 -16.5 -6.0\\ 10.02 -16.5 -6.0\\
5.10 -17.5 -21.4\\ 5.31 -17.5 -20.3\\ 5.51 -17.5 -19.2\\ 5.72 -17.5 -17.9\\ 5.92 -17.5 -17.0\\ 6.13 -17.5 -16.1\\ 6.33 -17.5 -15.4\\ 6.54 -17.5 -14.6\\ 6.74 -17.5 -13.8\\ 6.95 -17.5 -13.3\\ 7.15 -17.5 -12.7\\ 7.36 -17.5 -12.1\\ 7.56 -17.5 -11.4\\ 7.77 -17.5 -10.8\\ 7.97 -17.5 -10.2\\ 8.18 -17.5 -9.7\\ 8.38 -17.5 -9.2\\ 8.59 -17.5 -8.8\\ 8.79 -17.5 -8.4\\ 9.00 -17.5 -8.0\\ 9.20 -17.5 -7.7\\ 9.41 -17.5 -7.5\\ 9.61 -17.5 -7.3\\ 9.82 -17.5 -7.1\\ 10.02 -17.5 -7.0\\
5.10 -18.5 -22.9\\ 5.31 -18.5 -22.2\\ 5.51 -18.5 -21.4\\ 5.72 -18.5 -20.3\\ 5.92 -18.5 -19.2\\ 6.13 -18.5 -18.6\\ 6.33 -18.5 -17.4\\ 6.54 -18.5 -17.0\\ 6.74 -18.5 -16.1\\ 6.95 -18.5 -15.4\\ 7.15 -18.5 -14.6\\ 7.36 -18.5 -14.2\\ 7.56 -18.5 -13.6\\ 7.77 -18.5 -13.0\\ 7.97 -18.5 -12.4\\ 8.18 -18.5 -11.8\\ 8.38 -18.5 -11.2\\ 8.59 -18.5 -10.7\\ 8.79 -18.5 -10.2\\ 9.00 -18.5 -9.8\\ 9.20 -18.5 -9.5\\ 9.41 -18.5 -9.2\\ 9.61 -18.5 -9.0\\ 9.82 -18.5 -8.8\\ 10.02 -18.5 -8.7\\
5.10 -19.5 -23.4\\ 5.31 -19.5 -23.4\\ 5.51 -19.5 -23.3\\ 5.72 -19.5 -23.2\\ 5.92 -19.5 -22.9\\ 6.13 -19.5 -22.2\\ 6.33 -19.5 -21.8\\ 6.54 -19.5 -21.0\\ 6.74 -19.5 -19.9\\ 6.95 -19.5 -19.2\\ 7.15 -19.5 -18.6\\ 7.36 -19.5 -17.9\\ 7.56 -19.5 -17.0\\ 7.77 -19.5 -16.2\\ 7.97 -19.5 -15.4\\ 8.18 -19.5 -14.7\\ 8.38 -19.5 -14.0\\ 8.59 -19.5 -13.4\\ 8.79 -19.5 -12.9\\ 9.00 -19.5 -12.5\\ 9.20 -19.5 -12.1\\ 9.41 -19.5 -11.8\\ 9.61 -19.5 -11.6\\ 9.82 -19.5 -11.4\\ 10.02 -19.5 -11.3\\
};
\end{axis}
\end{tikzpicture}
\end{document}
